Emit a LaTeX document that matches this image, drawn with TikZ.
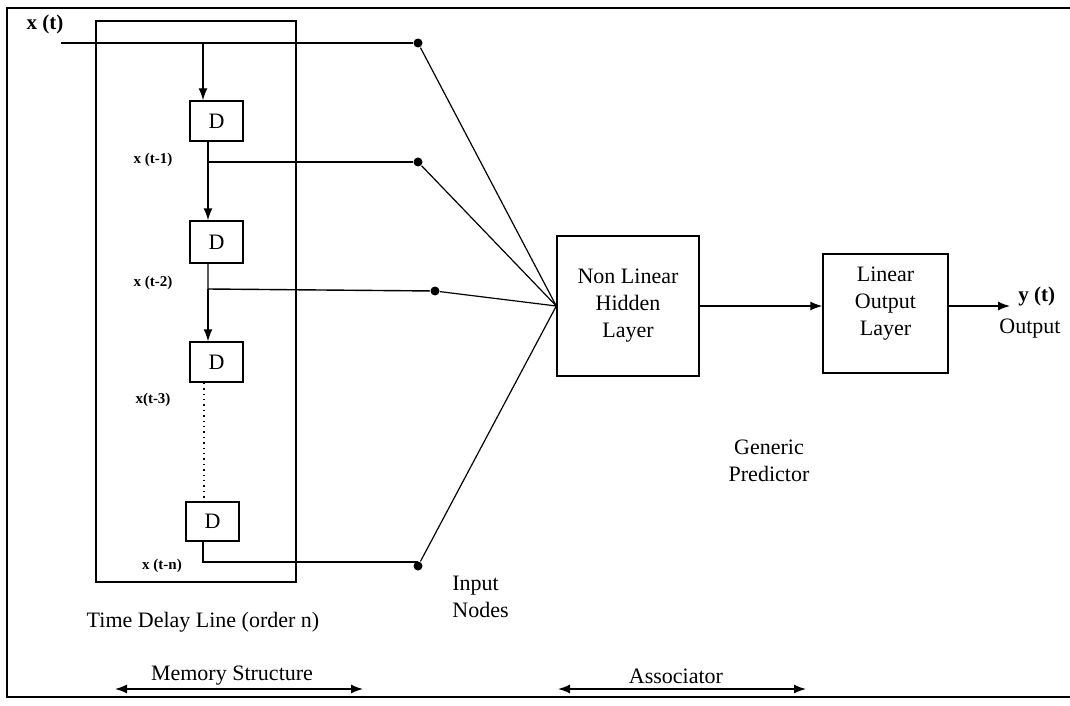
\documentclass[tikz,border=0pt]{standalone}
\usepackage{fontspec}
\setmainfont{Liberation Serif}
\usetikzlibrary{positioning,arrows.meta,calc}

\begin{document}
\begin{tikzpicture}[
  x=0.5pt, y=-0.5pt,
  font=\fontsize{11}{13.5}\selectfont,
  line width=0.7pt,
  box/.style={rectangle, draw, inner sep=0pt},
  dbox/.style={box, minimum width=26.5pt, minimum height=20pt},
  dot/.style={circle, fill, inner sep=0pt, minimum size=4.5pt},
  tag/.style={font=\fontsize{7.5}{9}\selectfont\bfseries},
  sig/.style={font=\fontsize{10.5}{12}\selectfont\bfseries},
  flow/.style={-{Latex[length=6pt,width=4.5pt]}},
  span/.style={{Latex[length=6pt,width=4.5pt]}-{Latex[length=6pt,width=4.5pt]}},
]
\useasboundingbox (0,0) rectangle (1070,706);

% outer frame (cut open at the right edge)
\draw[line width=1.2pt] (1070,8) -- (7,8) -- (7,697) -- (1070,697);

% memory structure: box and delay elements
\node[box, minimum width=100pt, minimum height=280.5pt] (mem) at (196,301.5) {};
\node[dbox] (d1) at (216.5,121) {D};
\node[dbox, minimum height=21pt] (d2) at (216.5,242) {D};
\node[dbox] (d3) at (216.5,362) {D};
\node[dbox, minimum height=19.5pt] (dn) at (212.5,521.5) {D};

% tap points
\coordinate (xin) at (61,43);
\coordinate (tap0) at (203,43);
\coordinate (tap1) at (208,162);
\coordinate (tap2) at (208,289);
\coordinate (tap3) at (204,382);
\coordinate (tapn) at (203,562);
\coordinate (yout) at (1010,306);

% input nodes
\node[dot] (n0) at (418,43) {};
\node[dot] (n1) at (418,162) {};
\node[dot] (n2) at (435,291) {};
\node[dot] (nn) at (418,566) {};

% predictor blocks
\node[box, minimum width=71pt, minimum height=70pt, align=center] (hid) at (628,306) {Non Linear\\Hidden\\Layer};
\node[box, minimum width=62.5pt, minimum height=59.5pt,
  label={[align=center, yshift=5pt]center:Linear\\Output\\Layer}] (lin) at (885.5,313.5) {};

% delay line
\draw (xin) -- (n0);
\draw[flow] (tap0) -- (tap0 |- d1.north);
\draw (d1.south -| tap1) -- (tap1) -- (n1);
\draw[flow] (tap1) -- (tap1 |- d2.north);
\draw (d2.south -| tap2) -- (tap2) -- (n2);
\draw[flow] (tap2) -- (tap2 |- d3.north);
\draw[dotted] (d3.south -| tap3) -- (dn.north -| tap3);
\draw (dn.south -| tapn) -- (tapn) -- (tapn -| nn);

% fan-in to hidden layer
\foreach \n in {n0,n1,n2,nn} {
  \draw[line width=0.6pt] (\n) -- (hid.west);
}
\draw[flow] (hid.east) -- (hid.east -| lin.west);
\draw[flow] (hid.east -| lin.east) -- (yout);

% signal labels
\node[sig] (xt) at (45,24) {x (t)};
\node[sig, anchor=west] (yt) at (1011,296) {y (t)};
\node (out) at (1030,329) {Output};
\node[tag] (l1) at (153,160) {x (t-1)};
\node[tag] (l2) at (153,283) {x (t-2)};
\node[tag] (l3) at (153,400) {x(t-3)};
\node[tag] (ln) at (162,566) {x (t-n)};

% captions
\node (tdl) at (203,622) {Time Delay Line (order n)};
\node[align=left, anchor=west] (inl) at (445,597) {Input\\Nodes};
\node[align=center] (gp) at (769,461) {Generic\\Predictor};

% spans
\coordinate (msl) at (115,689);
\coordinate (msr) at (363,689);
\node (ms) at (232,676) {Memory Structure};
\draw[span] (msl) -- (msr);
\coordinate (asl) at (558,689);
\coordinate (asr) at (806,689);
\node (as) at (676,676) {Associator};
\draw[span] (asl) -- (asr);
\end{tikzpicture}
\end{document}
